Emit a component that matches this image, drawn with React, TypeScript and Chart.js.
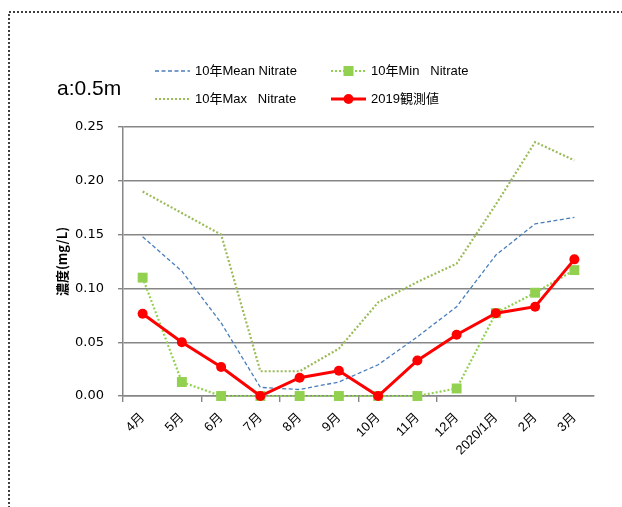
import React, { useEffect, useRef } from "react";
import { Chart, registerables } from "chart.js";

Chart.register(...registerables);

const categories = ["4月", "5月", "6月", "7月", "8月", "9月", "10月", "11月", "12月", "2020/1月", "2月", "3月"];
const meanNitrate = [0.148, 0.116, 0.068, 0.008, 0.006, 0.013, 0.029, 0.055, 0.083, 0.131, 0.16, 0.166];
const minNitrate = [0.11, 0.013, 0, 0, 0, 0, 0, 0, 0.007, 0.077, 0.096, 0.117];
const maxNitrate = [0.19, 0.17, 0.15, 0.023, 0.023, 0.044, 0.087, 0.106, 0.123, 0.178, 0.236, 0.219];
const obs2019 = [0.0765, 0.05, 0.027, 0, 0.017, 0.0235, 0, 0.033, 0.057, 0.077, 0.083, 0.127];
const yTicks = [0, 0.05, 0.1, 0.15, 0.2, 0.25];

const chartTitle = "a:0.5m";
const yTitle = "濃度(mg/L)";
const legendMean = "10年Mean Nitrate";
const legendMin = "10年Min   Nitrate";
const legendMax = "10年Max   Nitrate";
const legendObs = "2019観測値";

const FONT = "'Liberation Sans', 'Noto Sans CJK JP', sans-serif";
const GRID = "#868686";
const BLUE = "#4A7EBB";
const OLIVE = "#9BBB59";
const LIME = "#92D050";
const RED = "#FF0000";

const decorPlugin = {
  id: "decor",
  afterDraw(chart: any) {
    const ctx = chart.ctx as CanvasRenderingContext2D;
    ctx.save();
    // dotted outer border
    ctx.strokeStyle = "#404040";
    ctx.lineWidth = 2;
    ctx.setLineDash([2, 2]);
    ctx.beginPath();
    ctx.moveTo(9, 600);
    ctx.lineTo(9, 12);
    ctx.lineTo(700, 12);
    ctx.stroke();

    // title
    ctx.setLineDash([]);
    ctx.fillStyle = "#000";
    ctx.font = `21px ${FONT}`;
    ctx.textBaseline = "middle";
    ctx.textAlign = "left";
    ctx.fillText(chartTitle, 57, 89);

    // legend
    ctx.font = `13px ${FONT}`;
    const drawItem = (x0: number, x1: number, y: number, label: string, kind: string) => {
      ctx.save();
      if (kind === "mean") {
        ctx.strokeStyle = BLUE; ctx.lineWidth = 1.3; ctx.setLineDash([4, 2.5]);
      } else if (kind === "max") {
        ctx.strokeStyle = OLIVE; ctx.lineWidth = 2.2; ctx.setLineDash([2, 2]);
      } else if (kind === "min") {
        ctx.strokeStyle = LIME; ctx.lineWidth = 2.2; ctx.setLineDash([2, 2]);
      } else {
        ctx.strokeStyle = RED; ctx.lineWidth = 3; ctx.setLineDash([]);
      }
      ctx.beginPath();
      ctx.moveTo(x0, y);
      ctx.lineTo(x1, y);
      ctx.stroke();
      ctx.setLineDash([]);
      const cx = (x0 + x1) / 2;
      if (kind === "min") {
        ctx.fillStyle = LIME;
        ctx.fillRect(cx - 5, y - 5, 10, 10);
      } else if (kind === "obs") {
        ctx.fillStyle = RED;
        ctx.beginPath();
        ctx.arc(cx, y, 5, 0, Math.PI * 2);
        ctx.fill();
      }
      ctx.fillStyle = "#000";
      ctx.fillText(label, x1 + 5, y);
      ctx.restore();
    };
    drawItem(155, 190, 71, legendMean, "mean");
    drawItem(331, 366, 71, legendMin, "min");
    drawItem(155, 190, 99, legendMax, "max");
    drawItem(331, 366, 99, legendObs, "obs");
    ctx.restore();
  },
};

export default function App() {
  const ref = useRef<HTMLCanvasElement | null>(null);
  useEffect(() => {
    if (!ref.current) return;
    const chart = new Chart(ref.current, {
      type: "line",
      data: {
        labels: categories,
        datasets: [
          {
            label: legendObs,
            data: obs2019,
            borderColor: RED,
            backgroundColor: RED,
            borderWidth: 3,
            pointRadius: 5,
            pointBorderWidth: 0,
            pointStyle: "circle",
            pointBackgroundColor: RED,
            pointBorderColor: RED,
            tension: 0,
            clip: false,
            order: 0,
          },
          {
            label: legendMin,
            data: minNitrate,
            borderColor: LIME,
            backgroundColor: LIME,
            borderWidth: 2.2,
            borderDash: [2, 2],
            pointRadius: 7,
            pointBorderWidth: 0,
            pointStyle: "rect",
            pointBackgroundColor: LIME,
            pointBorderColor: LIME,
            tension: 0,
            clip: false,
            order: 1,
          },
          {
            label: legendMax,
            data: maxNitrate,
            borderColor: OLIVE,
            borderWidth: 2.2,
            borderDash: [2, 2],
            pointRadius: 0,
            tension: 0,
            clip: false,
            order: 2,
          },
          {
            label: legendMean,
            data: meanNitrate,
            borderColor: BLUE,
            borderWidth: 1.3,
            borderDash: [4, 2.5],
            pointRadius: 0,
            tension: 0,
            clip: false,
            order: 3,
          },
        ],
      },
      options: {
        responsive: false,
        animation: false,
        devicePixelRatio: 1,
        layout: { padding: { left: 50, top: 127, right: 28, bottom: 0 } },
        plugins: {
          legend: { display: false },
          title: { display: false },
          tooltip: { enabled: false },
        },
        scales: {
          x: {
            type: "category",
            offset: true,
            afterFit: (s: any) => { s.height = 111; },
            grid: {
              offset: true,
              drawOnChartArea: false,
              drawTicks: true,
              tickLength: 6,
              lineWidth: 1.4,
              color: (c: any) => (c.index % 2 === 0 ? GRID : "rgba(0,0,0,0)"),
            },
            border: { display: true, color: GRID, width: 1.5 },
            ticks: {
              autoSkip: false,
              maxRotation: 45,
              minRotation: 45,
              color: "#000",
              padding: 8,
              font: { family: FONT, size: 13 },
            },
          },
          y: {
            min: 0,
            max: 0.25,
            afterFit: (s: any) => { s.width = 73; },
            afterBuildTicks: (s: any) => { s.ticks = yTicks.map((v) => ({ value: v })); },
            grid: { color: GRID, lineWidth: 1.4, tickLength: 5, drawTicks: true },
            border: { display: true, color: GRID, width: 1.5 },
            ticks: {
              color: "#000",
              padding: 14,
              font: { family: "'DejaVu Sans', sans-serif", size: 13 },
              callback: (v: any) => Number(v).toFixed(2),
            },
            title: {
              display: true,
              text: yTitle,
              color: "#000",
              padding: { top: 4, bottom: 0 },
              font: { family: "'Noto Sans CJK JP', 'Liberation Sans', sans-serif", size: 13, weight: "bold" },
            },
          },
        },
      },
      plugins: [decorPlugin],
    } as any);
    return () => chart.destroy();
  }, []);
  return (
    <div style={{ position: "absolute", left: 0, top: 0, width: 622, height: 507, background: "#fff" }}>
      <canvas ref={ref} width={622} height={507} style={{ width: 622, height: 507, display: "block" }} />
    </div>
  );
}
